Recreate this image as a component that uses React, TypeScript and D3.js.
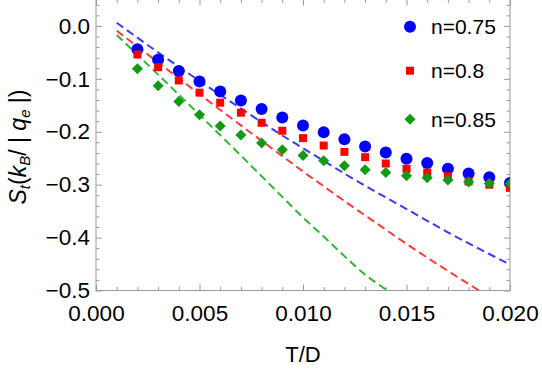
import React, { useEffect, useRef } from 'react';
import * as d3 from 'd3';

// measured points (T/D) for the three fillings
const tPoints = [0.002, 0.003, 0.004, 0.005, 0.006, 0.007, 0.008, 0.009, 0.010, 0.011,
  0.012, 0.013, 0.014, 0.015, 0.016, 0.017, 0.018, 0.019, 0.020];
const n075 = [-0.044, -0.064, -0.085, -0.105, -0.124, -0.141, -0.157, -0.173, -0.188, -0.201,
  -0.214, -0.228, -0.239, -0.251, -0.259, -0.270, -0.279, -0.286, -0.297];
const n080 = [-0.054, -0.078, -0.103, -0.126, -0.145, -0.164, -0.183, -0.198, -0.212, -0.226,
  -0.238, -0.248, -0.260, -0.270, -0.277, -0.284, -0.294, -0.300, -0.306];
const n085 = [-0.081, -0.113, -0.143, -0.168, -0.189, -0.206, -0.221, -0.234, -0.245, -0.255,
  -0.264, -0.272, -0.277, -0.283, -0.287, -0.291, -0.295, -0.298, -0.298];

// dashed low-T curves
const tCurve = [0.001, 0.003, 0.005, 0.007, 0.009, 0.010, 0.011, 0.012, 0.013, 0.014, 0.015, 0.017, 0.019, 0.020];
const curve075 = [0.006, -0.050, -0.104, -0.156, -0.207, -0.231, -0.255, -0.279, -0.302, -0.324, -0.346, -0.390, -0.431, -0.451];
const curve080 = [-0.009, -0.069, -0.129, -0.188, -0.246, -0.275, -0.303, -0.331, -0.358, -0.385, -0.412, -0.463, -0.512, -0.536];
const curve085 = [-0.017, -0.092, -0.168, -0.245, -0.323, -0.362, -0.398, -0.435, -0.470, -0.498, -0.525, -0.575, -0.625, -0.650];

const xMajor = [0, 0.005, 0.010, 0.015, 0.020];
const yMajor = [0, -0.1, -0.2, -0.3, -0.4, -0.5];
const legendLabels = ['n=0.75', 'n=0.8', 'n=0.85'];

const W = 542, H = 369;
const left = 96, right = 510, top = -0.5, bottom = 290.5;
const font = '"Liberation Sans", Arial, sans-serif';

const App: React.FC = () => {
  const svgRef = useRef<SVGSVGElement>(null);

  useEffect(() => {
    if (!svgRef.current) return;
    const svg = d3.select(svgRef.current);
    svg.selectAll('*').remove();

    const x = d3.scaleLinear().domain([0, 0.02]).range([left, right]);
    const y = d3.scaleLinear().domain([-0.5, 0.05]).range([bottom, top]);

    const xMinor = d3.range(0, 21).map(i => i * 0.001).filter(v => Math.round(v * 1000) % 5 !== 0);
    const yMinor = d3.range(-25, 3).map(i => i * 0.02).filter(v => Math.round(v * 100) % 10 !== 0);

    svg.append('defs').append('clipPath').attr('id', 'plot-clip')
      .append('rect').attr('x', left).attr('y', top).attr('width', right - left).attr('height', bottom - top);

    const frameColor = '#9a9a9a';

    const styleAxis = (g: d3.Selection<SVGGElement, unknown, null, undefined>) => {
      g.select('.domain').remove();
      g.selectAll('line').attr('stroke', frameColor).attr('stroke-width', 1);
      g.selectAll('text').attr('fill', '#000').attr('font-family', font).attr('font-size', 22.5);
    };

    // bottom
    svg.append('g').attr('transform', `translate(0,${bottom})`)
      .call(d3.axisBottom(x).tickValues(xMajor).tickSize(-6).tickPadding(14.5).tickFormat(d3.format('.3f') as any))
      .call(styleAxis);
    svg.append('g').attr('transform', `translate(0,${bottom})`)
      .call(d3.axisBottom(x).tickValues(xMinor).tickSize(-3.5).tickFormat(() => ''))
      .call(styleAxis);
    // top
    svg.append('g').attr('transform', `translate(0,${top})`)
      .call(d3.axisTop(x).tickValues(xMajor).tickSize(-6).tickFormat(() => ''))
      .call(styleAxis);
    svg.append('g').attr('transform', `translate(0,${top})`)
      .call(d3.axisTop(x).tickValues(xMinor).tickSize(-3.5).tickFormat(() => ''))
      .call(styleAxis);
    // left
    svg.append('g').attr('transform', `translate(${left},0)`)
      .call(d3.axisLeft(y).tickValues(yMajor).tickSize(-6).tickPadding(6).tickFormat(d3.format('.1f') as any))
      .call(styleAxis);
    svg.append('g').attr('transform', `translate(${left},0)`)
      .call(d3.axisLeft(y).tickValues(yMinor).tickSize(-3.5).tickFormat(() => ''))
      .call(styleAxis);
    // right
    svg.append('g').attr('transform', `translate(${right},0)`)
      .call(d3.axisRight(y).tickValues(yMajor).tickSize(-6).tickFormat(() => ''))
      .call(styleAxis);
    svg.append('g').attr('transform', `translate(${right},0)`)
      .call(d3.axisRight(y).tickValues(yMinor).tickSize(-3.5).tickFormat(() => ''))
      .call(styleAxis);

    // frame
    svg.append('rect')
      .attr('x', left).attr('y', top).attr('width', right - left).attr('height', bottom - top)
      .attr('fill', 'none').attr('stroke', frameColor).attr('stroke-width', 1);

    const plot = svg.append('g').attr('clip-path', 'url(#plot-clip)');

    // dashed curves
    const line = d3.line<[number, number]>()
      .x(d => x(d[0])).y(d => y(d[1])).curve(d3.curveMonotoneX);
    const curves = [
      { v: curve075, color: '#3a3aff' },
      { v: curve080, color: '#ff3a3a' },
      { v: curve085, color: '#2fb82f' },
    ];
    curves.forEach(c => {
      plot.append('path')
        .datum(tCurve.map((t, i) => [t, c.v[i]] as [number, number]))
        .attr('fill', 'none').attr('stroke', c.color).attr('stroke-width', 2)
        .attr('stroke-dasharray', '8,4.5')
        .attr('d', line);
    });

    // markers
    const blue = '#0000ff', red = '#ff0000', green = '#129a12';
    const circle = d3.symbol().type(d3.symbolCircle).size(Math.PI * 36);
    const square = d3.symbol().type(d3.symbolSquare).size(64);
    const diamond = (cx: number, cy: number, r: number) =>
      `M${cx},${cy - r}L${cx + r},${cy}L${cx},${cy + r}L${cx - r},${cy}Z`;

    plot.selectAll('.m075').data(tPoints).enter().append('path')
      .attr('d', circle()).attr('fill', blue)
      .attr('transform', (t, i) => `translate(${x(t)},${y(n075[i])})`);
    plot.selectAll('.m080').data(tPoints).enter().append('path')
      .attr('d', square()).attr('fill', red)
      .attr('transform', (t, i) => `translate(${x(t)},${y(n080[i])})`);
    plot.selectAll('.m085').data(tPoints).enter().append('path')
      .attr('d', (t, i) => diamond(x(t), y(n085[i]), 5.5)).attr('fill', green);

    // legend
    const lx = 410, ly = [26.7, 70.7, 119.3];
    svg.append('path').attr('d', circle()).attr('fill', blue).attr('transform', `translate(${lx},${ly[0]})`);
    svg.append('path').attr('d', square()).attr('fill', red).attr('transform', `translate(${lx},${ly[1]})`);
    svg.append('path').attr('d', diamond(lx, ly[2], 5.5)).attr('fill', green);
    legendLabels.forEach((lab, i) => {
      svg.append('text').attr('x', 431).attr('y', ly[i]).attr('dy', '0.36em')
        .attr('font-family', font).attr('font-size', 21).attr('fill', '#000').text(lab);
    });

    // axis titles
    svg.append('text').attr('x', (left + right) / 2).attr('y', 361.5)
      .attr('text-anchor', 'middle').attr('font-family', font).attr('font-size', 22).text('T/D');

    const yl = svg.append('text')
      .attr('transform', `translate(25.5,147) rotate(-90)`)
      .attr('text-anchor', 'middle').attr('font-family', font).attr('font-size', 23);
    yl.append('tspan').attr('font-style', 'italic').text('S');
    yl.append('tspan').attr('font-style', 'italic').attr('font-size', 15).attr('dy', 4).text('t');
    yl.append('tspan').attr('dy', -4).text('(');
    yl.append('tspan').attr('font-style', 'italic').text('k');
    yl.append('tspan').attr('font-style', 'italic').attr('font-size', 15).attr('dy', 4).text('B');
    yl.append('tspan').attr('dy', -4).text('/ | ');
    yl.append('tspan').attr('font-style', 'italic').text('q');
    yl.append('tspan').attr('font-style', 'italic').attr('font-size', 15).attr('dy', 4).text('e');
    yl.append('tspan').attr('dy', -4).text(' |)');
  }, []);

  return (
    <div style={{ position: 'absolute', left: 0, top: 0 }}>
      <svg ref={svgRef} width={W} height={H} style={{ display: 'block', background: '#fff' }} />
    </div>
  );
};

export default App;
